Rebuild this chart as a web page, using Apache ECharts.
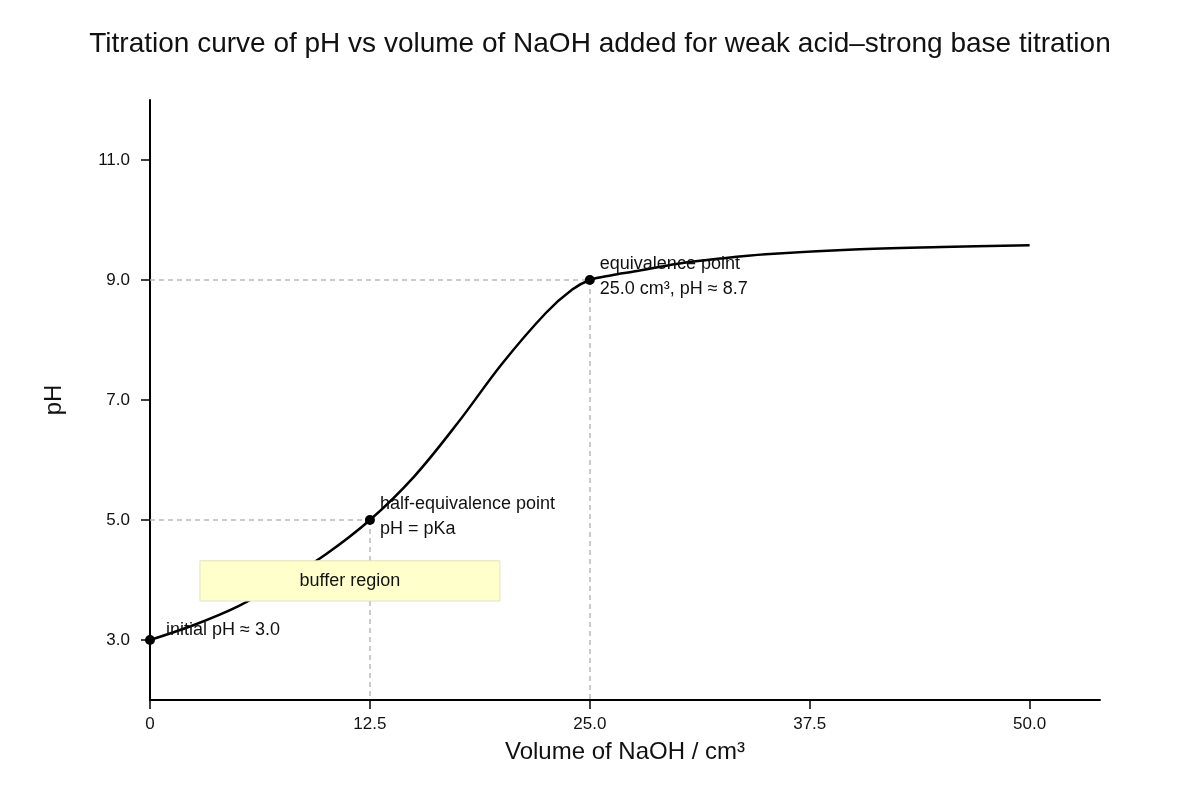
<!DOCTYPE html>
<html>
<head>
<meta charset="utf-8">
<title>Titration curve</title>
<script src="https://cdn.jsdelivr.net/npm/echarts@6/dist/echarts.min.js"></script>
<style>
  html, body { margin: 0; padding: 0; background: #fff; }
  #chart { width: 1200px; height: 800px; }
</style>
</head>
<body>
<div id="chart"></div>
<script>
// Datos: volumen de NaOH (cm³) y pH
const volume = [0, 2.5, 5, 7.5, 10, 12.5, 15, 17.5, 20, 22.5, 24, 25, 26.25, 27.5, 30, 32.5, 35, 40, 45, 50];
const pH = [3.00, 3.25, 3.56, 3.97, 4.43, 5.00, 5.72, 6.62, 7.60, 8.45, 8.84, 9.00, 9.08, 9.14, 9.27, 9.36, 9.43, 9.51, 9.55, 9.58];

// Puntos destacados
const keyVolume = [0, 12.5, 25];
const keyPH = [3.0, 5.0, 9.0];
const keyLabels = [
    'initial pH ≈ 3.0',
    'half-equivalence point\npH = pKa',
    'equivalence point\n25.0 cm³, pH ≈ 8.7'
];

// Zona tampón
const bufferX = [2.84, 19.89];
const bufferY = [3.65, 4.32];

// Marcas de los ejes
const xTicks = [0, 12.5, 25, 37.5, 50];
const yTicks = [3, 5, 7, 9, 11];

const font = 'Liberation Sans, Arial, sans-serif';

const curveData = volume.map((v, i) => [v, pH[i]]);

// Posiciones de las etiquetas respecto al símbolo
const labelPos = [[21, -5], [15, 2], [15, 2]];
const pointData = keyVolume.map((v, i) => ({
    value: [v, keyPH[i]],
    label: {
        show: true,
        formatter: keyLabels[i],
        position: labelPos[i],
        align: 'left',
        verticalAlign: 'middle',
        fontSize: 18,
        lineHeight: 25,
        color: '#111',
        opacity: 1,
        fontFamily: font
    }
}));

// Líneas guía punteadas
const guideLines = [
    [{ coord: [0, 5] }, { coord: [12.5, 5] }],
    [{ coord: [12.5, 5] }, { coord: [12.5, 2] }],
    [{ coord: [0, 9] }, { coord: [25, 9] }],
    [{ coord: [25, 9] }, { coord: [25, 2] }]
];

const chart = echarts.init(document.getElementById('chart'));

const option = {
    animation: false,
    backgroundColor: '#fff',
    title: {
        text: 'Titration curve of pH vs volume of NaOH added for weak acid–strong base titration',
        left: 'center',
        top: 25,
        textStyle: { fontSize: 28, fontWeight: 'normal', color: '#111', fontFamily: font }
    },
    grid: { left: 150, right: 100, top: 100, bottom: 100, containLabel: false, outerBoundsMode: 'none' },
    xAxis: {
        type: 'value',
        min: 0,
        max: 54,
        name: 'Volume of NaOH / cm³',
        nameLocation: 'middle',
        nameGap: 40,
        nameTextStyle: { fontSize: 24, color: '#111', fontFamily: font },
        axisLine: { show: true, lineStyle: { color: '#000', width: 2 } },
        axisTick: { show: true, length: 9, lineStyle: { color: '#000', width: 1.5 }, customValues: xTicks },
        axisLabel: {
            fontSize: 17, color: '#111', fontFamily: font, margin: 16,
            customValues: xTicks,
            formatter: v => (v === 0 ? '0' : v.toFixed(1))
        },
        splitLine: { show: false }
    },
    yAxis: {
        type: 'value',
        min: 2,
        max: 12,
        name: 'pH',
        nameLocation: 'middle',
        nameGap: 84,
        nameTextStyle: { fontSize: 24, color: '#111', fontFamily: font },
        axisLine: { show: true, lineStyle: { color: '#000', width: 2 } },
        axisTick: { show: true, length: 9, lineStyle: { color: '#000', width: 1.5 }, customValues: yTicks },
        axisLabel: {
            fontSize: 17, color: '#111', fontFamily: font, margin: 20,
            customValues: yTicks,
            formatter: v => v.toFixed(1)
        },
        splitLine: { show: false }
    },
    series: [
        {
            name: 'pH',
            type: 'line',
            z: 2,
            data: curveData,
            smooth: 0.35,
            showSymbol: false,
            lineStyle: { color: '#000', width: 2.5 },
            markLine: {
                z: 1,
                silent: true,
                symbol: ['none', 'none'],
                label: { show: false },
                lineStyle: { color: '#bbbbbb', type: [5, 4], width: 1.5 },
                data: guideLines
            },
            markArea: {
                z: 3,
                silent: true,
                itemStyle: { color: '#ffffcc', opacity: 1, borderColor: '#e2e2c4', borderWidth: 1 },
                label: {
                    show: true,
                    position: 'inside',
                    fontSize: 18,
                    color: '#111',
                    fontFamily: font
                },
                data: [[
                    { name: 'buffer region', coord: [bufferX[0], bufferY[1]] },
                    { coord: [bufferX[1], bufferY[0]] }
                ]]
            }
        },
        {
            name: 'puntos',
            type: 'scatter',
            z: 4,
            symbolSize: 10,
            itemStyle: { color: '#000', opacity: 1 },
            data: pointData
        }
    ]
};

chart.setOption(option);
</script>
</body>
</html>
